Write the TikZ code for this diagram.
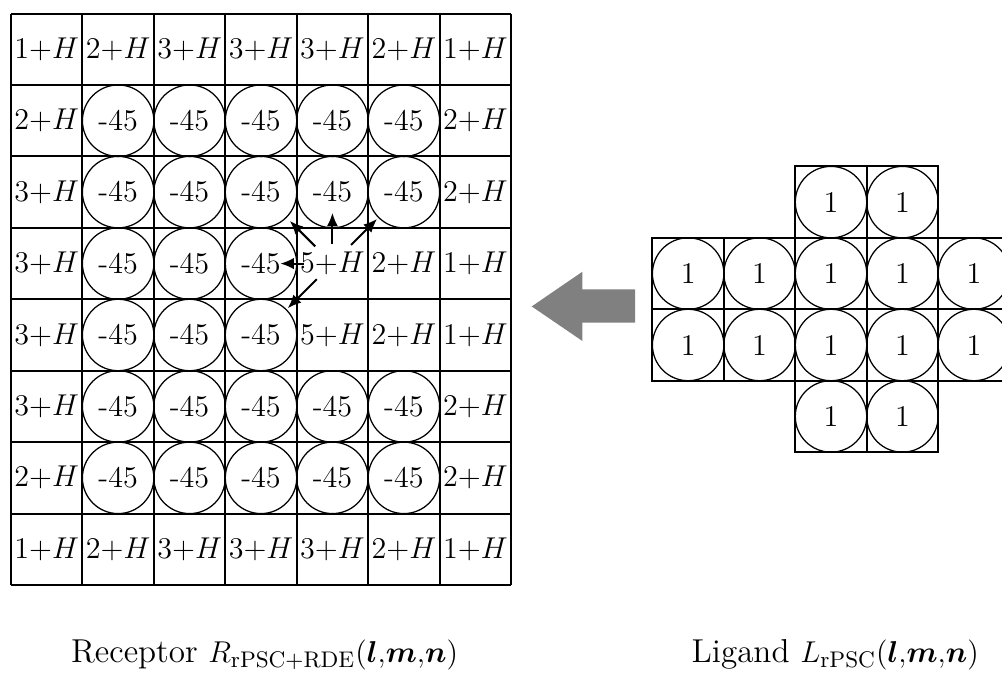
\documentclass[tikz,border=0pt]{standalone}
\usepackage{amsmath}
\usepackage{bm}
\usepackage{tikz}
\usetikzlibrary{arrows.meta, positioning, calc}
\definecolor{cShift}{RGB}{128,128,128}
\tikzset{
	gridline/.style={draw=black, line width=0.8pt},
	surf/.style    ={rectangle, inner sep=0pt, font=\large},
	core/.style    ={circle, draw=black, line width=0.5pt, minimum size=1cm, inner sep=0pt, font=\large},
	box/.style     ={rectangle, draw=black, line width=0.8pt, minimum size=1cm, inner sep=0pt},
	hop/.style     ={-{Latex[length=1.9mm, width=1.6mm]}, line width=0.8pt},
	caption/.style ={anchor=base, font=\fontsize{13.2}{16}\selectfont},
}
\begin{document}
\begin{tikzpicture}
				\useasboundingbox (-0.154,-1.232) rectangle (13.874,8.19);
				% receptor
				\draw[gridline] (0,0) grid (7,8);
				\foreach \r/\c/\t in {0/0/1,0/1/2,0/2/3,0/3/3,0/4/3,0/5/2,0/6/1,
									  1/0/2,1/6/2, 2/0/3,2/6/2,
									  3/0/3,3/4/5,3/5/2,3/6/1, 4/0/3,4/4/5,4/5/2,4/6/1,
									  5/0/3,5/6/2, 6/0/2,6/6/2,
									  7/0/1,7/1/2,7/2/3,7/3/3,7/4/3,7/5/2,7/6/1}
					\node[surf] (r-\r-\c) at (\c+0.5,7.5-\r) {\t+$H$};
				\foreach \r/\n in {1/5,2/5,3/3,4/3,5/5,6/5}
					\foreach \c in {1,...,\n}
						\node[core] (r-\r-\c) at (\c+0.5,7.5-\r) {-45};
				\draw[hop, shorten <=0.28cm, shorten >=0.29cm] (r-3-4.center) -- (r-2-4.center);
				\draw[hop, shorten <=0.34cm, shorten >=0.57cm] (r-3-4.center) -- (r-2-3.center);
				\draw[hop, shorten <=0.37cm, shorten >=0.53cm] (r-3-4.center) -- (r-2-5.center);
				\draw[hop, shorten <=0.40cm, shorten >=0.27cm] (r-3-4.center) -- (r-3-3.center);
				\draw[hop, shorten <=0.31cm, shorten >=0.53cm] (r-3-4.center) -- (r-4-3.center);
				% shift arrow
				\fill[cShift] (8.736,4.14) -- (8.0,4.14) -- (8.0,4.386) -- (7.29,3.9)
					-- (8.0,3.416) -- (8.0,3.672) -- (8.736,3.672) -- cycle;
				% ligand
				\begin{scope}[shift={(8.98,1.86)}]
					\foreach \r/\c in {0/2,0/3, 1/0,1/1,1/2,1/3,1/4, 2/0,2/1,2/2,2/3,2/4, 3/2,3/3}{
						\node[box] (lb-\r-\c) at (\c+0.5,3.5-\r) {};
						\node[core] (l-\r-\c) at (\c+0.5,3.5-\r) {1};
					}
				\end{scope}
				\node[caption] (rec) at (3.55,-1.09) {Receptor $R_{\mathrm{rPSC+RDE}}(\bm{l}{,}\bm{m}{,}\bm{n})$};
				\node[caption] (lig) at (11.54,-1.09) {Ligand $L_{\mathrm{rPSC}}(\bm{l}{,}\bm{m}{,}\bm{n})$};
\end{tikzpicture}
\end{document}
